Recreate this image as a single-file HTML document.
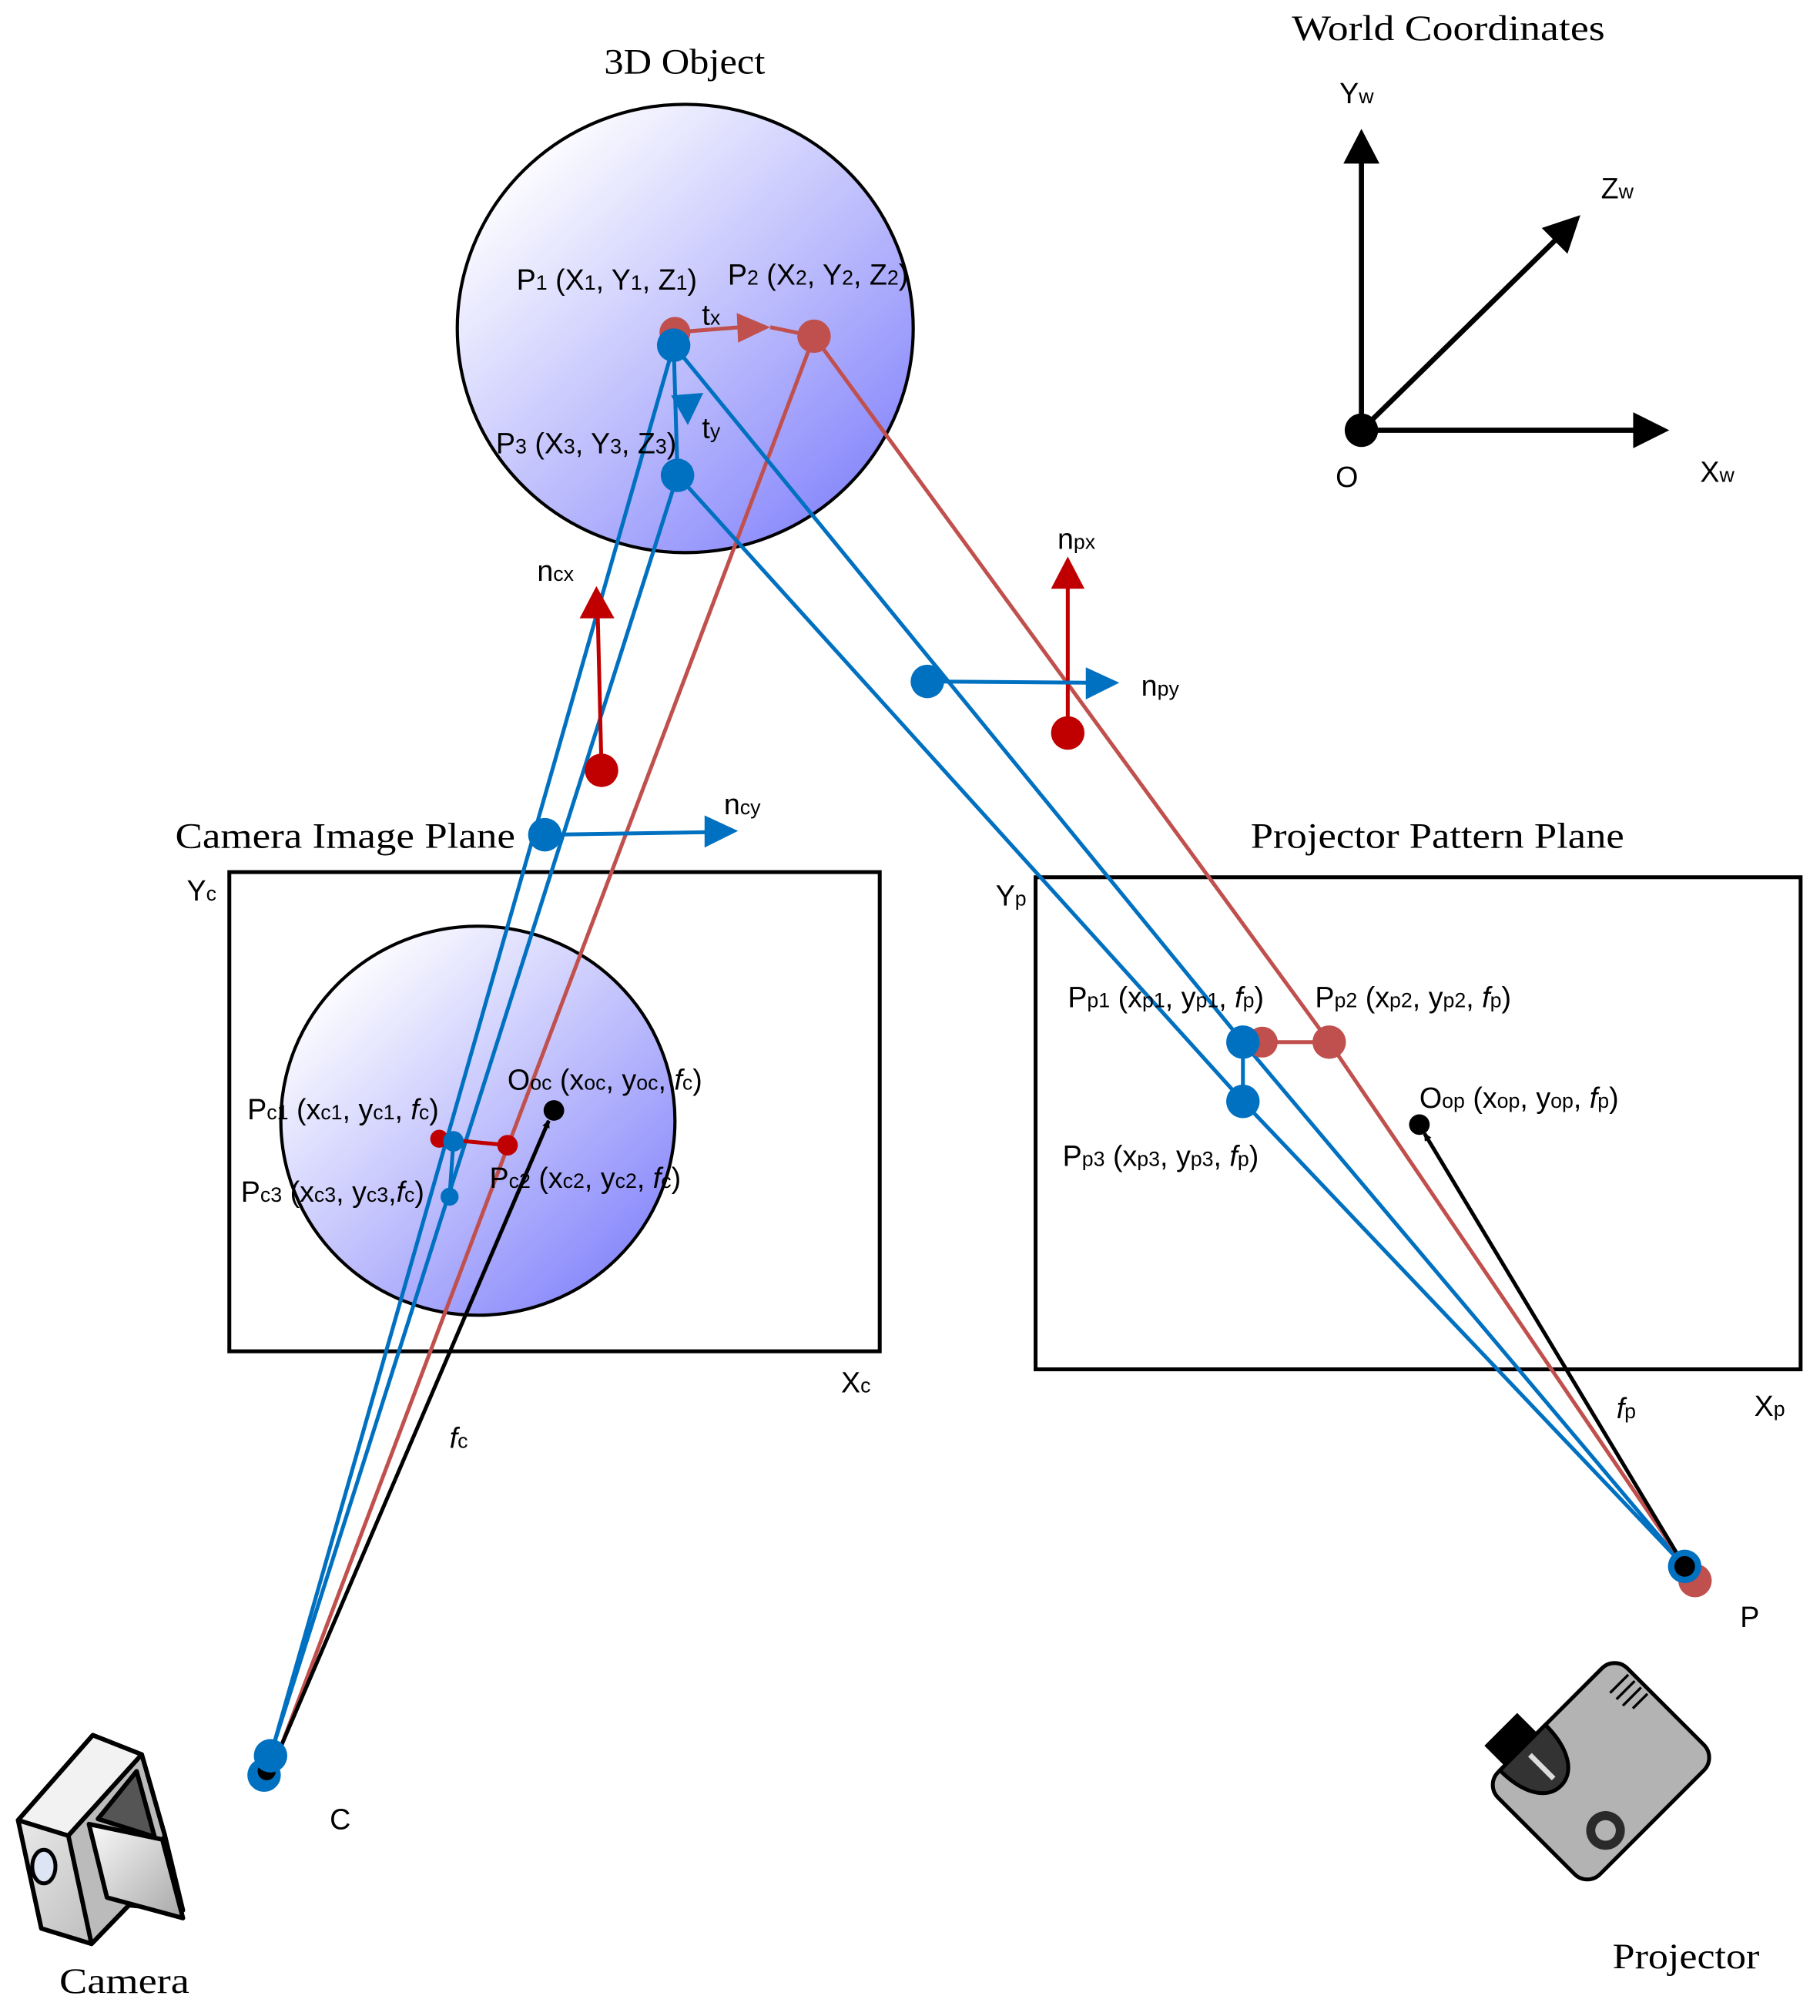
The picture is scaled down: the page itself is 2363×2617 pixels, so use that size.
<!DOCTYPE html>
<html><head><meta charset="utf-8"><style>
html,body{margin:0;padding:0;background:#fff;}
svg{display:block;}
.s{font-family:"Liberation Sans",sans-serif;font-size:22.5px;fill:#000;}
.t{font-family:"Liberation Serif",serif;font-size:28px;fill:#000;}
.sub{font-size:16px;}
</style></head><body>
<svg width="2363" height="2617" viewBox="0 0 1413 1565" xmlns="http://www.w3.org/2000/svg">
<defs>
<linearGradient id="g" x1="0.15" y1="0.1" x2="0.9" y2="0.9">
<stop offset="0" stop-color="#ffffff"/><stop offset="1" stop-color="#8585fb"/>
</linearGradient>
<linearGradient id="cg" x1="0" y1="0" x2="1" y2="1">
<stop offset="0" stop-color="#fafafa"/><stop offset="1" stop-color="#a8a8a8"/>
</linearGradient>
<marker id="ab" viewBox="0 0 10 10" refX="9" refY="5" markerWidth="6" markerHeight="6" orient="auto" markerUnits="userSpaceOnUse"><path d="M0,0L10,5L0,10z" fill="#000"/></marker>
</defs>

<!-- World coordinates -->
<text class="t" x="1003" y="31" textLength="243" lengthAdjust="spacingAndGlyphs">World Coordinates</text>
<line x1="1057" y1="334" x2="1057" y2="125" stroke="#000" stroke-width="4"/>
<polygon points="1057,100 1043,127 1071,127" fill="#000"/>
<line x1="1057" y1="334" x2="1270" y2="334" stroke="#000" stroke-width="4"/>
<polygon points="1296,334 1268,320 1268,348" fill="#000"/>
<line x1="1057" y1="334" x2="1208" y2="186" stroke="#000" stroke-width="4"/>
<polygon points="1227,167 1197,177 1217,197" fill="#000"/>
<circle cx="1057" cy="334" r="13" fill="#000"/>
<text class="s" x="1040" y="80">Y<tspan class="sub">w</tspan></text>
<text class="s" x="1243" y="154">Z<tspan class="sub">w</tspan></text>
<text class="s" x="1320" y="374">X<tspan class="sub">w</tspan></text>
<text class="s" x="1037" y="378">O</text>

<!-- 3D object -->
<text class="t" x="469" y="57" textLength="125" lengthAdjust="spacingAndGlyphs">3D Object</text>
<ellipse cx="532" cy="255" rx="177" ry="174" fill="url(#g)" stroke="#000" stroke-width="2.5"/>

<!-- Camera plane -->
<text class="t" x="136" y="658" textLength="264" lengthAdjust="spacingAndGlyphs">Camera Image Plane</text>
<rect x="178" y="677" width="505" height="372" fill="none" stroke="#000" stroke-width="3"/>
<ellipse cx="371" cy="870" rx="153" ry="151" fill="url(#g)" stroke="#000" stroke-width="2.5"/>
<text class="s" x="145" y="699">Y<tspan class="sub">c</tspan></text>
<text class="s" x="653" y="1081">X<tspan class="sub">c</tspan></text>

<!-- Projector plane -->
<text class="t" x="971" y="658" textLength="290" lengthAdjust="spacingAndGlyphs">Projector Pattern Plane</text>
<rect x="804" y="681" width="594" height="382" fill="none" stroke="#000" stroke-width="3"/>
<text class="s" x="773" y="703">Y<tspan class="sub">p</tspan></text>
<text class="s" x="1362" y="1099">X<tspan class="sub">p</tspan></text>

<!-- rays -->
<g fill="none" stroke-width="3">
<line x1="210" y1="1363" x2="523" y2="268" stroke="#0070c0"/>
<line x1="205" y1="1378" x2="526" y2="369" stroke="#0070c0"/>
<line x1="212" y1="1372" x2="632" y2="261" stroke="#c0504d"/>
<polyline points="523,268 965,809 1308,1216" stroke="#0070c0"/>
<polyline points="526,369 965,855 1308,1216" stroke="#0070c0"/>
<polyline points="632,261 1032,809 1316,1227" stroke="#c0504d"/>
</g>
<line x1="212" y1="1370" x2="426" y2="870" stroke="#000" stroke-width="3" marker-end="url(#ab)"/>
<line x1="1308" y1="1216" x2="1106" y2="880" stroke="#000" stroke-width="3" marker-end="url(#ab)"/>

<!-- object points -->
<circle cx="524" cy="258" r="12" fill="#c0504d"/>
<line x1="524" y1="258" x2="575" y2="254" stroke="#c0504d" stroke-width="3"/>
<polygon points="598,254 572,243 573,266" fill="#c0504d"/>
<line x1="598" y1="254" x2="632" y2="261" stroke="#c0504d" stroke-width="3"/>
<circle cx="632" cy="261" r="13" fill="#c0504d"/>
<line x1="523" y1="268" x2="526" y2="369" stroke="#0070c0" stroke-width="3"/>
<polygon points="534,330 521,307 546,305" fill="#0070c0"/>
<circle cx="523" cy="268" r="13" fill="#0070c0"/>
<circle cx="526" cy="369" r="13" fill="#0070c0"/>
<text class="s" x="401" y="225">P<tspan class="sub">1</tspan> (X<tspan class="sub">1</tspan>, Y<tspan class="sub">1</tspan>, Z<tspan class="sub">1</tspan>)</text>
<text class="s" x="565" y="221">P<tspan class="sub">2</tspan> (X<tspan class="sub">2</tspan>, Y<tspan class="sub">2</tspan>, Z<tspan class="sub">2</tspan>)</text>
<text class="s" x="385" y="352">P<tspan class="sub">3</tspan> (X<tspan class="sub">3</tspan>, Y<tspan class="sub">3</tspan>, Z<tspan class="sub">3</tspan>)</text>
<text class="s" x="545" y="252">t<tspan class="sub">x</tspan></text>
<text class="s" x="545" y="340">t<tspan class="sub">y</tspan></text>

<!-- normals -->
<line x1="467" y1="598" x2="464" y2="475" stroke="#c00000" stroke-width="3"/>
<polygon points="463,455 450,480 477,480" fill="#c00000"/>
<circle cx="467" cy="598" r="13" fill="#c00000"/>
<text class="s" x="417" y="451">n<tspan class="sub">cx</tspan></text>
<line x1="423" y1="648" x2="550" y2="646" stroke="#0070c0" stroke-width="3"/>
<polygon points="573,645 547,633 547,658" fill="#0070c0"/>
<circle cx="423" cy="648" r="13" fill="#0070c0"/>
<text class="s" x="562" y="632">n<tspan class="sub">cy</tspan></text>
<line x1="829" y1="569" x2="829" y2="452" stroke="#c00000" stroke-width="3"/>
<polygon points="829,432 816,457 842,457" fill="#c00000"/>
<circle cx="829" cy="569" r="13" fill="#c00000"/>
<text class="s" x="821" y="426">n<tspan class="sub">px</tspan></text>
<line x1="720" y1="529" x2="846" y2="530" stroke="#0070c0" stroke-width="3"/>
<polygon points="869,530 843,518 843,543" fill="#0070c0"/>
<circle cx="720" cy="529" r="13" fill="#0070c0"/>
<text class="s" x="886" y="540">n<tspan class="sub">py</tspan></text>

<!-- camera plane points -->
<line x1="341" y1="884" x2="394" y2="889" stroke="#c00000" stroke-width="3"/>
<line x1="352" y1="886" x2="349" y2="929" stroke="#0070c0" stroke-width="3"/>
<circle cx="341" cy="884" r="7" fill="#c00000"/>
<circle cx="394" cy="889" r="8" fill="#c00000"/>
<circle cx="352" cy="886" r="8" fill="#0070c0"/>
<circle cx="349" cy="929" r="7" fill="#0070c0"/>
<circle cx="430" cy="862" r="8" fill="#000"/>
<text class="s" x="192" y="869">P<tspan class="sub">c1</tspan> (x<tspan class="sub">c1</tspan>, y<tspan class="sub">c1</tspan>, <tspan font-style="italic">f</tspan><tspan class="sub">c</tspan>)</text>
<text class="s" x="394" y="846">O<tspan class="sub">oc</tspan> (x<tspan class="sub">oc</tspan>, y<tspan class="sub">oc</tspan>, <tspan font-style="italic">f</tspan><tspan class="sub">c</tspan>)</text>
<text class="s" x="187" y="933">P<tspan class="sub">c3</tspan> (x<tspan class="sub">c3</tspan>, y<tspan class="sub">c3</tspan>,<tspan font-style="italic">f</tspan><tspan class="sub">c</tspan>)</text>
<text class="s" x="380" y="922">P<tspan class="sub">c2</tspan> (x<tspan class="sub">c2</tspan>, y<tspan class="sub">c2</tspan>, <tspan font-style="italic">f</tspan><tspan class="sub">c</tspan>)</text>
<text class="s" x="349" y="1124"><tspan font-style="italic">f</tspan><tspan class="sub">c</tspan></text>

<!-- projector plane points -->
<line x1="965" y1="809" x2="1032" y2="809" stroke="#c0504d" stroke-width="3"/>
<line x1="965" y1="809" x2="965" y2="855" stroke="#0070c0" stroke-width="3"/>
<circle cx="980" cy="809" r="12" fill="#c0504d"/>
<circle cx="1032" cy="809" r="13" fill="#c0504d"/>
<circle cx="965" cy="809" r="13" fill="#0070c0"/>
<circle cx="965" cy="855" r="13" fill="#0070c0"/>
<circle cx="1102" cy="873" r="8" fill="#000"/>
<text class="s" x="829" y="782">P<tspan class="sub">p1</tspan> (x<tspan class="sub">p1</tspan>, y<tspan class="sub">p1</tspan>, <tspan font-style="italic">f</tspan><tspan class="sub">p</tspan>)</text>
<text class="s" x="1021" y="782">P<tspan class="sub">p2</tspan> (x<tspan class="sub">p2</tspan>, y<tspan class="sub">p2</tspan>, <tspan font-style="italic">f</tspan><tspan class="sub">p</tspan>)</text>
<text class="s" x="1102" y="860">O<tspan class="sub">op</tspan> (x<tspan class="sub">op</tspan>, y<tspan class="sub">op</tspan>, <tspan font-style="italic">f</tspan><tspan class="sub">p</tspan>)</text>
<text class="s" x="825" y="905">P<tspan class="sub">p3</tspan> (x<tspan class="sub">p3</tspan>, y<tspan class="sub">p3</tspan>, <tspan font-style="italic">f</tspan><tspan class="sub">p</tspan>)</text>
<text class="s" x="1255" y="1101"><tspan font-style="italic">f</tspan><tspan class="sub">p</tspan></text>

<!-- centers -->
<circle cx="1316" cy="1227" r="13" fill="#c0504d"/>
<circle cx="1308" cy="1216" r="13" fill="#0070c0"/>
<circle cx="1308" cy="1216" r="8" fill="#000"/>
<text class="s" x="1351" y="1263">P</text>
<circle cx="205" cy="1378" r="13" fill="#0070c0"/>
<circle cx="207" cy="1375" r="7" fill="#000"/>
<circle cx="210" cy="1363" r="13" fill="#0070c0"/>
<text class="s" x="256" y="1420">C</text>

<!-- camera icon -->
<g stroke="#000" stroke-width="3.5" stroke-linejoin="round">
<polygon points="14,1413 72,1347 110,1362 128,1425 142,1483 100,1479 71,1509 32,1497" fill="url(#cg)"/>
<polygon points="14,1413 72,1347 110,1362 53,1425" fill="#f2f2f2"/>
<polygon points="53,1425 110,1362 128,1425 100,1479 71,1509" fill="#bbbbbb"/>
<polygon points="76,1412 106,1375 120,1426" fill="#555"/>
<polygon points="69,1416 126,1428 142,1489 83,1473" fill="url(#cg)"/>
<ellipse cx="34" cy="1449" rx="9" ry="13" fill="#dde4f4" stroke-width="3"/>
<line x1="53" y1="1425" x2="71" y2="1509" stroke-width="2.5"/>
</g>
<text class="t" x="46" y="1547" textLength="101" lengthAdjust="spacingAndGlyphs">Camera</text>

<!-- projector icon -->
<g transform="translate(1243,1375) rotate(-45)">
<rect x="-50" y="-78" width="36" height="26" fill="#000"/>
<rect x="-71" y="-56" width="142" height="112" rx="14" fill="#b3b3b3" stroke="#000" stroke-width="3"/>
<path d="M-55,-56 L-5,-56 C-5,-30 -15,-14 -30,-14 C-45,-14 -55,-30 -55,-56z" fill="#333" stroke="#000" stroke-width="3"/>
<line x1="-30" y1="-48" x2="-30" y2="-22" stroke="#ddd" stroke-width="4"/>
<circle cx="-30" cy="35" r="15" fill="#2a2a2a"/>
<circle cx="-30" cy="35" r="8" fill="#b3b3b3"/>
<g stroke="#000" stroke-width="2"><line x1="48" y1="-38" x2="68" y2="-38"/><line x1="48" y1="-31" x2="68" y2="-31"/><line x1="48" y1="-24" x2="68" y2="-24"/><line x1="52" y1="-17" x2="68" y2="-17"/></g>
</g>
<text class="t" x="1252" y="1528" textLength="114" lengthAdjust="spacingAndGlyphs">Projector</text>
</svg>
</body></html>
